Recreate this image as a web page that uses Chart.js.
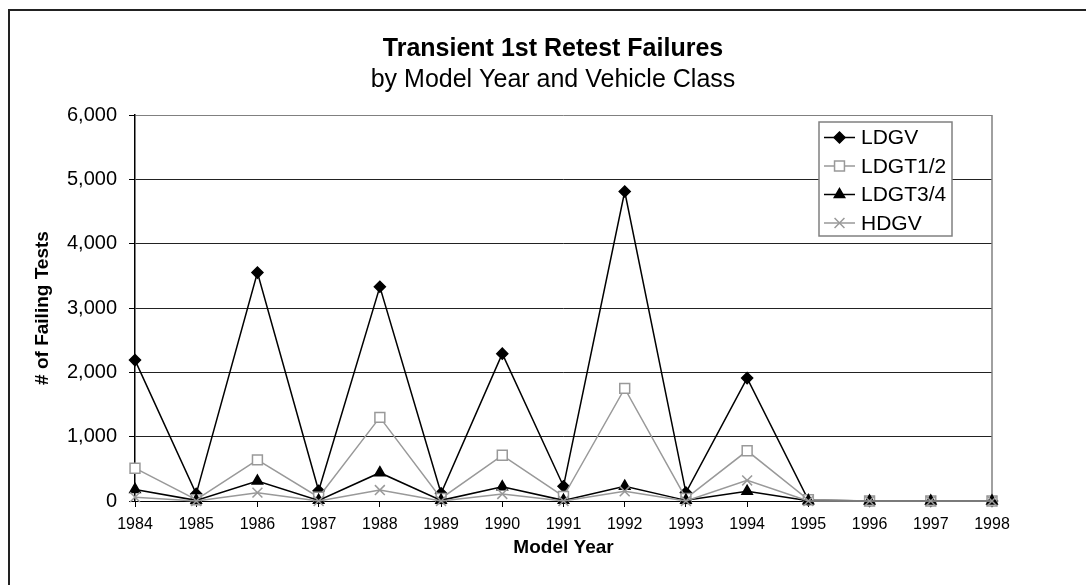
<!DOCTYPE html>
<html lang="en">
<head>
<meta charset="UTF-8">
<title>Transient 1st Retest Failures</title>
<style>
  body { margin: 0; background: #fff; }
  #wrap { width: 1086px; height: 585px; }
</style>
</head>
<body>
<div id="wrap"><canvas id="grafico" width="1086" height="585"></canvas></div>

<script src="https://cdn.jsdelivr.net/npm/chart.js"></script>
<script>
  // dados
  var anos = ['1984', '1985', '1986', '1987', '1988', '1989', '1990', '1991',
              '1992', '1993', '1994', '1995', '1996', '1997', '1998'];
  var ldgv   = [2190, 110, 3550, 160, 3330, 120, 2290, 230, 4810, 130, 1910, 15, 0, 0, 0];
  var ldgt12 = [510, 20, 640, 60, 1300, 40, 710, 70, 1750, 40, 780, 20, 0, 0, 0];
  var ldgt34 = [180, 10, 310, 10, 440, 10, 220, 10, 230, 10, 150, 5, 0, 0, 0];
  var hdgv   = [60, 0, 130, 0, 170, 0, 110, 0, 150, 0, 320, 0, 0, 0, 0];
  var yTicks = [0, 1000, 2000, 3000, 4000, 5000, 6000];

  var fonte = "'Liberation Sans', Arial, sans-serif";
  var cinza = '#999999';

  function serie(nome, dados, cor, estilo, fundo, raio, ordem) {
    return {
      label: nome,
      data: dados,
      borderColor: cor,
      borderWidth: 1.5,
      pointStyle: estilo,
      pointRadius: raio,
      pointBorderColor: cor,
      pointBackgroundColor: fundo,
      pointBorderWidth: 1.5,
      order: ordem,
      tension: 0,
      clip: false
    };
  }

  // moldura, titulos e legenda desenhados a mao (como no Excel)
  const extras = {
    id: 'extras',
    beforeDraw(chart) {
      const ctx = chart.ctx;
      ctx.save();
      ctx.strokeStyle = '#222';
      ctx.lineWidth = 2;
      ctx.beginPath();
      ctx.moveTo(9, 590);
      ctx.lineTo(9, 10);
      ctx.lineTo(1090, 10);
      ctx.stroke();
      ctx.restore();
    },
    beforeDatasetsDraw(chart) {
      const ctx = chart.ctx;
      const a = chart.chartArea;
      ctx.save();
      ctx.strokeStyle = '#808080';
      ctx.lineWidth = 1.5;
      ctx.beginPath();
      ctx.moveTo(a.right, a.bottom);
      ctx.lineTo(a.right, a.top);
      ctx.stroke();
      ctx.restore();
    },
    afterDraw(chart) {
      const ctx = chart.ctx;
      ctx.save();
      ctx.fillStyle = '#000';
      ctx.textAlign = 'center';
      ctx.textBaseline = 'alphabetic';
      ctx.font = 'bold 25px ' + fonte;
      ctx.fillText('Transient 1st Retest Failures', 553, 56);
      ctx.font = '25px ' + fonte;
      ctx.fillText('by Model Year and Vehicle Class', 553, 87);

      // legenda
      ctx.fillStyle = '#fff';
      ctx.fillRect(819, 122, 133, 114);
      ctx.strokeStyle = '#808080';
      ctx.lineWidth = 1.5;
      ctx.strokeRect(819, 122, 133, 114);

      ctx.textAlign = 'left';
      ctx.textBaseline = 'middle';
      ctx.font = '21px ' + fonte;
      chart.data.datasets.forEach(function (ds, i) {
        const y = 137.5 + i * 28.5;
        ctx.strokeStyle = ds.borderColor;
        ctx.lineWidth = ds.borderWidth;
        ctx.beginPath();
        ctx.moveTo(824, y);
        ctx.lineTo(855, y);
        ctx.stroke();
        ctx.fillStyle = ds.pointBackgroundColor;
        ctx.strokeStyle = ds.pointBorderColor;
        ctx.lineWidth = ds.pointBorderWidth;
        Chart.helpers.drawPoint(ctx, {
          pointStyle: ds.pointStyle,
          radius: ds.pointRadius,
          rotation: 0,
          borderWidth: ds.pointBorderWidth
        }, 839.5, y);
        ctx.fillStyle = '#000';
        ctx.fillText(ds.label, 861, y + 1);
      });
      ctx.restore();
    }
  };

  const ctx = document.getElementById('grafico').getContext('2d');
  new Chart(ctx, {
    type: 'line',
    data: {
      labels: anos,
      datasets: [
        serie('LDGV', ldgv, '#000', 'rectRot', '#000', 5.5, 4),
        serie('LDGT1/2', ldgt12, cinza, 'rect', '#fff', 7, 3),
        serie('LDGT3/4', ldgt34, '#000', 'triangle', '#000', 6, 2),
        serie('HDGV', hdgv, cinza, 'crossRot', cinza, 7, 1)
      ]
    },
    options: {
      responsive: false,
      animation: false,
      layout: { padding: { top: 115, right: 94, bottom: 0, left: 0 } },
      plugins: {
        legend: { display: false },
        title: { display: false },
        tooltip: { enabled: false }
      },
      scales: {
        x: {
          offset: false,
          afterFit: function (scale) { scale.height = 84; },
          grid: { offset: false, drawOnChartArea: false, drawTicks: true, tickLength: 6, tickColor: '#000' },
          border: { color: '#000', width: 1 },
          ticks: { color: '#000', font: { family: fonte, size: 16 }, padding: 8, maxRotation: 0, autoSkip: false },
          title: {
            display: true,
            text: 'Model Year',
            color: '#000',
            font: { family: fonte, size: 19, weight: 'bold' },
            padding: { top: 0, bottom: 25.6 }
          }
        },
        y: {
          min: 0,
          max: 6000,
          afterFit: function (scale) { scale.width = 135; },
          afterBuildTicks: function (scale) {
            scale.ticks = yTicks.map(function (v) { return { value: v }; });
          },
          grid: {
            color: function (c) { return c.tick && c.tick.value === 6000 ? '#808080' : '#222'; },
            lineWidth: 1,
            tickLength: 6,
            tickColor: '#000'
          },
          border: { color: '#000', width: 1.5 },
          ticks: {
            color: '#000',
            font: { family: fonte, size: 20 },
            padding: 12,
            callback: function (v) { return Number(v).toLocaleString('en-US'); }
          },
          title: {
            display: true,
            text: '# of Failing Tests',
            color: '#000',
            font: { family: fonte, size: 19, weight: 'bold' },
            padding: { top: 31.6, bottom: 0 }
          }
        }
      }
    },
    plugins: [extras]
  });
</script>
</body>
</html>
